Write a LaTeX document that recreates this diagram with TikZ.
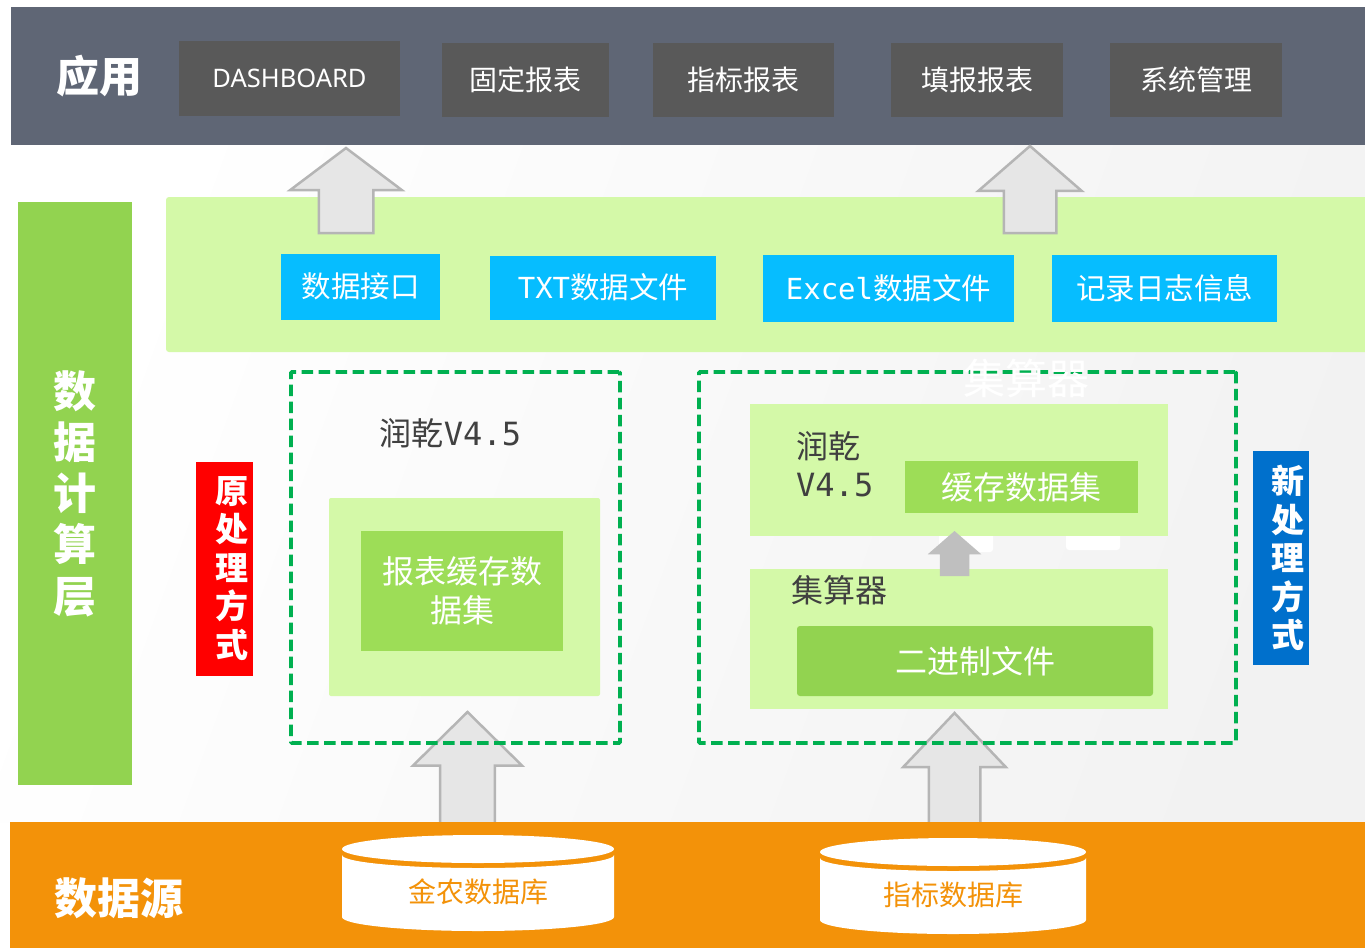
\documentclass[tikz,border=0pt]{standalone}
\usepackage{fontspec}
\setmainfont{Noto Sans CJK SC}
\newfontfamily\latinfont{Noto Sans}
\newfontfamily\monofont{DejaVu Sans Mono}
\usetikzlibrary{shapes.arrows}
\definecolor{bandgrey}{HTML}{5F6675}
\definecolor{boxgrey}{HTML}{595959}
\definecolor{lightgreen}{HTML}{D4F9A8}
\definecolor{midgreen}{HTML}{9DDD57}
\definecolor{leafgreen}{HTML}{92D350}
\definecolor{skyblue}{HTML}{06BDFF}
\definecolor{deepblue}{HTML}{0070CC}
\definecolor{dashgreen}{HTML}{00B050}
\definecolor{sourceorange}{HTML}{F39209}
\definecolor{arrowedge}{HTML}{B5B5B5}
\definecolor{arrowfill}{HTML}{E6E6E6}
\definecolor{darktext}{HTML}{404040}
\newcommand{\fsize}[2]{\fontsize{#1}{#2}\selectfont}
% shape of one database drum: left, right, top of lid
\newcommand{\dbdrum}[3]{
  \fill[white] (#1,#3+14) arc[start angle=180,end angle=0,x radius={(#2-#1)/2},y radius=-14]
    arc[start angle=0,end angle=180,x radius={(#2-#1)/2},y radius=14] -- cycle;
  \fill[white] (#1,#3+20) arc[start angle=180,end angle=0,x radius={(#2-#1)/2},y radius=13]
    -- (#2,#3+82) arc[start angle=0,end angle=180,x radius={(#2-#1)/2},y radius=14] -- cycle;
}
\tikzset{
  box/.style={inner sep=0pt,outer sep=0pt,align=center,text=white},
  greybox/.style={box,fill=boxgrey,font=\fsize{28}{34}},
  bluebox/.style={box,fill=skyblue,font=\fsize{29.5}{36}},
  lightbox/.style={box,fill=lightgreen},
  greenbox/.style={box,fill=midgreen,font=\fsize{32}{39}},
  sidebox/.style={box,font=\bfseries\fsize{33}{38.5}},
  title/.style={inner sep=0pt,text=white,font=\bfseries\fsize{43}{51.2}},
  darklabel/.style={inner sep=0pt,text=darktext,align=left},
  dashbox/.style={draw=dashgreen,line width=3.6pt,dash pattern=on 11.5pt off 5.5pt,rounded corners=1pt,inner sep=0pt,outer sep=0pt},
  uparrow/.style={single arrow,draw=arrowedge,fill=arrowfill,line width=2.5pt,shape border rotate=90,anchor=tip,inner ysep=0pt,outer sep=0pt,single arrow head indent=0pt},
}
\begin{document}
\begin{tikzpicture}[x=1pt,y=-1pt]
  \useasboundingbox (0,0) rectangle (1365,948);
  \fill[white] (0,0) rectangle (1365,948);
  \shade[left color=white,right color=black!5,shading angle=70] (0,145) rectangle (1365,822);

  % top band
  \node[box,fill=bandgrey,minimum width=1354pt,minimum height=138pt] (appband) at (688,76) {};
  \node[title] (apptitle) at (99,76.5) {应用};
  \node[greybox,minimum width=221pt,minimum height=75pt] (dashboard) at (289.5,78.5) {\latinfont\fsize{25.5}{30}DASHBOARD};
  \node[greybox,minimum width=167pt,minimum height=74pt] (fixedrep) at (525.5,80) {固定报表};
  \node[greybox,minimum width=181pt,minimum height=74pt] (indexrep) at (743.5,80) {指标报表};
  \node[greybox,minimum width=172pt,minimum height=74pt] (fillrep) at (977,80) {填报报表};
  \node[greybox,minimum width=172pt,minimum height=74pt] (sysmgr) at (1196,80) {系统管理};

  % output layer
  \node[lightbox,rounded corners=3pt,minimum width=1215pt,minimum height=155pt] (outband) at (773.5,274.5) {};
  \node[uparrow,inner xsep=26pt,minimum width=111pt,minimum height=85pt,single arrow head extend=28.5pt,single arrow tip angle=106] (uparrowa) at (346,148) {};
  \node[uparrow,inner xsep=25pt,minimum width=102pt,minimum height=87pt,single arrow head extend=25.5pt,single arrow tip angle=98] (uparrowb) at (1030,146) {};
  \node[bluebox,minimum width=159pt,minimum height=66pt] (iface) at (360.5,286.5) {数据接口};
  \node[bluebox,minimum width=226pt,minimum height=64pt] (txtfile) at (603,287.5) {{\monofont\fsize{29}{34}TXT}数据文件};
  \node[bluebox,minimum width=251pt,minimum height=67pt] (xlsfile) at (888.5,288.5) {{\monofont\fsize{29}{34}Excel}数据文件};
  \node[bluebox,minimum width=225pt,minimum height=67pt] (logfile) at (1164.5,288.5) {记录日志信息};

  % side labels
  \node[box,fill=leafgreen,minimum width=114pt,minimum height=583pt] (calcbar) at (75,493.5) {};
  \node[title,align=center] (calctitle) at (75,493.5) {数\\据\\计\\算\\层};
  \node[sidebox,fill=red,minimum width=57pt,minimum height=214pt] (oldbar) at (224.5,569) {};
  \node[sidebox] (oldlabel) at (232,568.5) {原\\处\\理\\方\\式};
  \node[sidebox,fill=deepblue,minimum width=56pt,minimum height=214pt] (newbar) at (1281,558) {};
  \node[sidebox] (newlabel) at (1288,558) {新\\处\\理\\方\\式};

  % left block
  \node[lightbox,rounded corners=2pt,minimum width=271pt,minimum height=198pt] (oldouter) at (464.5,597) {};
  \node[greenbox,minimum width=202pt,minimum height=120pt] (oldcache) at (462,591) {报表缓存数\\据集};
  \node[darklabel,font=\fsize{32}{38}] (oldrun) at (450.5,433) {润乾{\monofont V4.5}};

  % right block
  \node[box,fill=white,rounded corners=3pt,minimum width=54pt,minimum height=20pt] (patcha) at (966,542) {};
  \node[box,fill=white,rounded corners=3pt,minimum width=54pt,minimum height=20pt] (patchb) at (1093,540) {};
  \node[lightbox,minimum width=418pt,minimum height=132pt] (newtop) at (959,470) {};
  \node[lightbox,minimum width=418pt,minimum height=140pt] (newbottom) at (959,639) {};
  \node[uparrow,draw=none,fill=black!25,inner xsep=13.5pt,minimum width=51pt,minimum height=45pt,single arrow head extend=12pt,single arrow tip angle=98] (uparrowsmall) at (954.5,531) {};
  \node[darklabel,font=\fsize{32}{38},anchor=north west] (newrun) at (796,431) {润乾\\{\monofont V4.5}};
  \node[greenbox,minimum width=233pt,minimum height=52pt] (newcache) at (1021.5,487) {缓存数据集};
  \node[darklabel,font=\fsize{32}{39}] (calcname) at (839.5,590) {集算器};
  \node[box,fill=leafgreen,rounded corners=3pt,font=\fsize{32}{39},minimum width=356pt,minimum height=70pt] (binfile) at (975,661) {二进制文件};

  % bottom arrows, source band
  \node[uparrow,inner xsep=26pt,minimum width=109pt,minimum height=112pt,single arrow head extend=27pt,single arrow tip angle=91] (uparrowc) at (467.5,712) {};
  \node[uparrow,inner xsep=24.5pt,minimum width=101pt,minimum height=112pt,single arrow head extend=25.5pt,single arrow tip angle=87] (uparrowd) at (954.5,713) {};
  \node[box,fill=sourceorange,minimum width=1355pt,minimum height=126pt] (srcband) at (687.5,885) {};
  \node[title] (srctitle) at (119,898) {数据源};
  \dbdrum{342}{614}{835}
  \dbdrum{820}{1086}{838}
  \node[inner sep=0pt,text=sourceorange,font=\fsize{28}{34}] (jinnong) at (478,891.5) {金农数据库};
  \node[inner sep=0pt,text=sourceorange,font=\fsize{28}{34}] (indexdb) at (953,894.5) {指标数据库};

  % dashed frames
  \node[dashbox,minimum width=329pt,minimum height=371pt] (oldframe) at (455.5,557.5) {};
  \node[dashbox,minimum width=537pt,minimum height=371pt] (newframe) at (967.5,557.5) {};
  \node[inner sep=0pt,text=white,font=\fsize{42}{48}] (ghostname) at (1026,378) {集算器};
\end{tikzpicture}
\end{document}
